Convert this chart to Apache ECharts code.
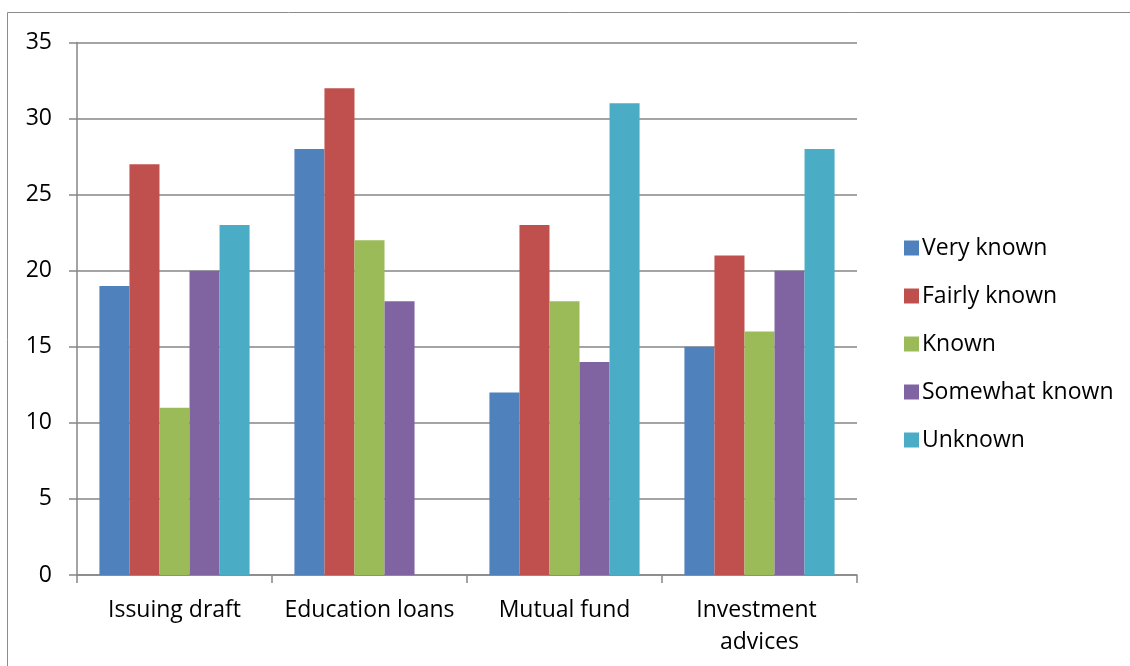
<!DOCTYPE html>
<html>
<head>
<meta charset="utf-8">
<style>
  html, body { margin: 0; padding: 0; background: #fff; }
  #chart { width: 1130px; height: 666px; }
</style>
<script src="https://cdn.jsdelivr.net/npm/echarts@6/dist/echarts.min.js"></script>
</head>
<body>
<div id="chart"></div>
<script>
// Awareness of banking services, by response level
const categories = ['Issuing draft', 'Education loans', 'Mutual fund', 'Investment advices'];
const seriesNames = ['Very known', 'Fairly known', 'Known', 'Somewhat known', 'Unknown'];
const veryKnown = [19, 28, 12, 15];
const fairlyKnown = [27, 32, 23, 21];
const known = [11, 22, 18, 16];
const somewhatKnown = [20, 18, 14, 20];
const unknown = [23, 0, 31, 28];
const yTicks = [0, 5, 10, 15, 20, 25, 30, 35];

const seriesValues = [veryKnown, fairlyKnown, known, somewhatKnown, unknown];
const colors = ['#4F81BD', '#C0504D', '#9BBB59', '#8064A2', '#4BACC6'];
const axisGray = '#868686';
const font = '"Open Sans", Lato, sans-serif';
const fontSize = 23;

const chart = echarts.init(document.getElementById('chart'), null, { renderer: 'canvas' });

chart.setOption({
  animation: false,
  color: colors,
  textStyle: { fontFamily: font },
  graphic: [{
    type: 'rect',
    shape: { x: 7.5, y: 12.5, width: 1200, height: 700 },
    style: { fill: 'none', stroke: '#8c8c8c', lineWidth: 1 },
    silent: true
  }],
  grid: { left: 77, right: 273, top: 42.5, bottom: 91, containLabel: false },
  legend: {
    orient: 'vertical',
    left: 899,
    top: 229,
    itemWidth: 15,
    itemHeight: 15,
    itemGap: 20,
    icon: 'rect',
    textStyle: { fontSize: fontSize, lineHeight: 28, color: '#000', fontFamily: font, padding: [0, 0, 0, -2] },
    data: seriesNames
  },
  xAxis: {
    type: 'category',
    data: categories,
    axisLine: { lineStyle: { color: axisGray, width: 1.5 } },
    axisTick: { show: true, length: 8, alignWithLabel: false, lineStyle: { color: axisGray, width: 1.5 } },
    axisLabel: {
      fontSize: fontSize,
      color: '#000',
      fontFamily: font,
      margin: 19,
      lineHeight: 32,
      width: 185,
      overflow: 'break',
      interval: 0
    }
  },
  yAxis: {
    type: 'value',
    min: yTicks[0],
    max: yTicks[yTicks.length - 1],
    interval: 5,
    axisLine: { show: true, lineStyle: { color: axisGray, width: 1.5 } },
    axisTick: { show: true, length: 8, lineStyle: { color: axisGray, width: 1.5 } },
    splitLine: { show: true, lineStyle: { color: axisGray, width: 1.5 } },
    axisLabel: { fontSize: fontSize, color: '#000', fontFamily: font, margin: 25 }
  },
  series: seriesNames.map((name, i) => ({
    name: name,
    type: 'bar',
    data: seriesValues[i],
    barGap: '0%',
    barCategoryGap: '23%',
    itemStyle: { color: colors[i] }
  }))
});
</script>
</body>
</html>
